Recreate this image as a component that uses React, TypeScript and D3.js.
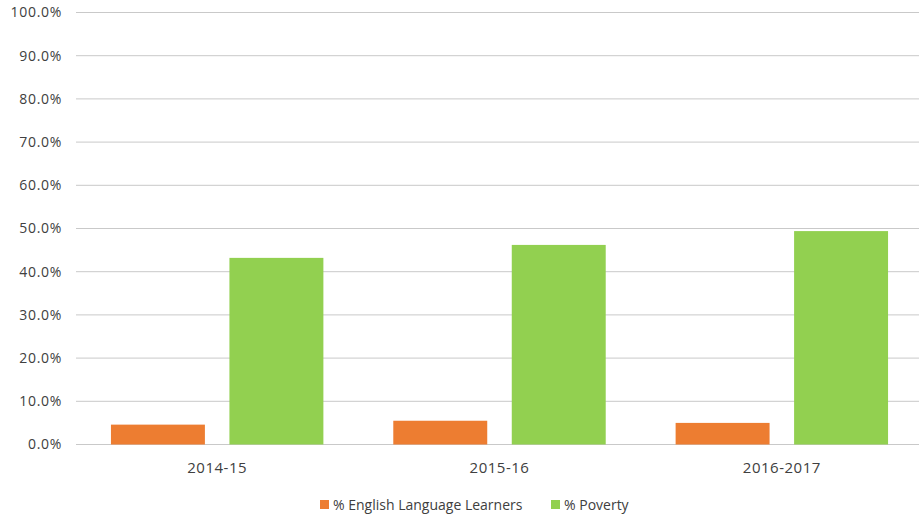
import React from "react";
import * as d3 from "d3";

const categories = ["2014-15", "2015-16", "2016-2017"];
const seriesNames = ["% English Language Learners", "% Poverty"];
const ellValues = [0.046, 0.055, 0.050];
const povertyValues = [0.432, 0.462, 0.494];
const yTicks = [0, 0.1, 0.2, 0.3, 0.4, 0.5, 0.6, 0.7, 0.8, 0.9, 1.0];
const colors = ["#ED7D31", "#92D050"];

const W = 919;
const H = 515;
const FONT = "'Open Sans', 'Noto Sans', sans-serif";
const TEXT = "#404040";

export default function App() {
  const series = [ellValues, povertyValues];
  const x0 = d3.scaleBand<string>().domain(categories).range([76, 923]).padding(0);
  const x1 = d3
    .scaleBand<string>()
    .domain(seriesNames)
    .range([0, x0.bandwidth()])
    .paddingInner(0.207)
    .paddingOuter(0.295);
  const y = d3.scaleLinear().domain([0, 1]).range([444.5, 12.5]);
  const fmt = d3.format(".1%");

  const legendItems = [
    { name: seriesNames[0], x: 320, color: colors[0] },
    { name: seriesNames[1], x: 551, color: colors[1] },
  ];

  return (
    <svg
      width={W}
      height={H}
      style={{ position: "absolute", left: 0, top: 0, background: "#fff" }}
      fontFamily={FONT}
    >
      <rect x={0} y={0} width={W} height={H} fill="#fff" />
      {yTicks.map((t) => (
        <g key={t}>
          <line x1={76} x2={W} y1={y(t)} y2={y(t)} stroke="#c9c9c9" strokeWidth={1} />
          <text
            x={62}
            y={y(t)}
            dy="0.35em"
            textAnchor="end"
            fontSize={14}
            letterSpacing={0.7}
            fill={TEXT}
          >
            {fmt(t)}
          </text>
        </g>
      ))}
      {categories.map((c, i) => (
        <g key={c} transform={`translate(${x0(c)},0)`}>
          {series.map((vals, s) => (
            <rect
              key={s}
              x={x1(seriesNames[s])}
              y={y(vals[i])}
              width={x1.bandwidth()}
              height={y(0) - y(vals[i])}
              fill={colors[s]}
            />
          ))}
          <text
            x={x0.bandwidth() / 2}
            y={472.5}
            textAnchor="middle"
            fontSize={15}
            letterSpacing={0.5}
            fill={TEXT}
          >
            {c}
          </text>
        </g>
      ))}
      {legendItems.map((it) => (
        <g key={it.name}>
          <rect x={it.x} y={500} width={9} height={9} fill={it.color} />
          <text x={it.x + 13} y={505} dy="0.35em" fontSize={14} fill={TEXT}>
            {it.name}
          </text>
        </g>
      ))}
    </svg>
  );
}
